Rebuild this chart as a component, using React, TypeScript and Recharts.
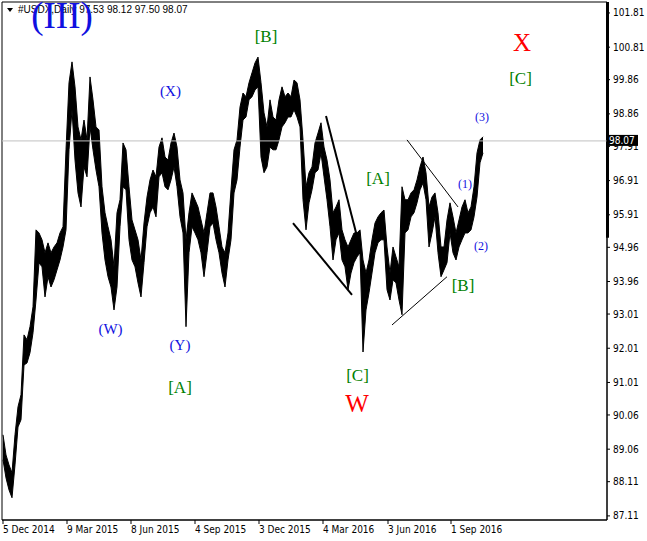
import { ComposedChart, Area, XAxis, YAxis, ReferenceLine, ReferenceDot, ReferenceArea } from 'recharts'

// USDX daily, sampled every 3rd trading day from 5 Dec 2014 (high / low)
const highs = [
	89.48, 88.89, 88.6, 88.37, 89.48, 90.3, 90.65, 92.4, 92.26, 92.64,
	93.22, 95.47, 95.38, 95.18, 94.8, 95.09, 94.8, 94.97, 95.09, 95.38,
	95.56, 97.81, 99.77, 100.38, 99.65, 98.48, 98.1, 98.68, 98.1, 99.94,
	99.27, 98.48, 98.39, 96.73, 95.97, 95.56, 95.18, 94.39, 95.97, 96.35,
	98.01, 97.81, 96.73, 95.76, 95.47, 95.18, 94.59, 95.67, 96.43, 96.93,
	97.22, 97.02, 97.89, 98.16, 97.6, 97.51, 98.01, 98.3, 97.89, 96.93,
	96.55, 95.18, 95.97, 96.55, 96.35, 96.14, 95.76, 95.38, 95.97, 96.55,
	96.55, 96.14, 95.56, 94.97, 94.8, 95.38, 96.64, 97.81, 98.1, 99.06,
	99.47, 99.36, 99.77, 100.06, 100.35, 100.52, 99.77, 98.89, 98.48, 99.27,
	98.77, 98.68, 99.27, 99.65, 99.36, 99.47, 99.36, 99.85, 99.77, 99.27,
	98.1, 96.73, 97.14, 97.31, 98.01, 98.3, 98.6, 97.89, 97.51, 96.93,
	95.97, 96.14, 96.35, 95.47, 95.18, 94.97, 95.18, 95.38, 95.38, 95.47,
	94.59, 94.21, 94.59, 95.18, 95.67, 95.85, 95.97, 96.05, 94.97, 94.21,
	94.97, 94.68, 94.39, 96.73, 96.35, 96.35, 96.55, 96.64, 96.93, 97.31,
	97.6, 97.14, 96.14, 96.43, 96.55, 95.97, 94.97, 94.97, 95.76, 96.26,
	95.85, 95.38, 95.76, 96.14, 96.35, 95.97, 96.14, 96.73, 97.72, 98.1,
	98.19,
]
const lows = [
	88.75, 88.22, 87.87, 87.64, 88.6, 89.71, 89.92, 91.52, 91.58, 91.88,
	92.46, 93.42, 94.51, 94.39, 93.51, 94.1, 93.8, 94.01, 94.3, 94.59,
	94.97, 95.47, 97.81, 98.98, 97.51, 96.55, 96.14, 97.31, 97.02, 98.48,
	97.81, 97.22, 96.73, 95.38, 94.59, 94.1, 93.8, 93.13, 93.8, 95.56,
	96.73, 96.64, 95.18, 94.59, 94.39, 93.92, 93.51, 94.51, 95.56, 95.97,
	96.14, 95.85, 97.02, 97.14, 96.73, 96.64, 96.93, 97.31, 96.73, 95.85,
	95.38, 92.64, 94.8, 95.56, 95.38, 95.18, 94.8, 94.1, 94.8, 95.56,
	95.67, 95.18, 94.8, 94.21, 93.8, 94.59, 95.18, 96.55, 96.93, 97.89,
	98.68, 98.77, 99.27, 99.36, 99.56, 99.65, 97.6, 97.14, 97.31, 97.89,
	97.81, 97.81, 98.1, 98.48, 98.6, 98.77, 98.77, 98.98, 98.77, 98.48,
	96.35, 95.47, 96.26, 96.64, 97.14, 97.22, 97.72, 97.02, 96.35, 95.56,
	94.59, 95.18, 95.38, 94.59, 94.39, 93.72, 94.21, 94.51, 94.68, 94.8,
	91.9, 93.13, 93.63, 94.21, 94.8, 95.09, 95.18, 95.18, 93.72, 93.42,
	94.01, 93.92, 93.42, 92.99, 95.38, 95.47, 95.85, 95.97, 96.26, 96.64,
	96.84, 96.35, 94.97, 95.38, 95.85, 94.8, 94.1, 94.3, 94.51, 95.38,
	94.8, 94.59, 94.97, 95.18, 95.38, 95.38, 95.47, 95.85, 96.43, 97.43,
	97.72,
]

const dateLabels = ['5 Dec 2014', '9 Mar 2015', '8 Jun 2015', '4 Sep 2015', '3 Dec 2015', '4 Mar 2016', '3 Jun 2016', '1 Sep 2016']
const dateBars = [0, 64, 128, 192, 256, 320, 385, 448]
const priceTicks = [101.81, 100.81, 99.86, 98.86, 97.91, 96.91, 95.91, 94.96, 93.96, 93.01, 92.01, 91.01, 90.06, 89.06, 88.11, 87.11]
const lastPrice = 98.07
const header = '#USDX,Daily 97.53 98.12 97.50 98.07'

// elliott wave marks: text, bar, price, degree
const waveText = ['(III)', '[B]', '(X)', '(W)', '(Y)', '[A]', '[A]', '[C]', 'W', 'X', '[C]', '(3)', '(1)', '(2)', '[B]']
const waveBar = [59, 263, 167.5, 107.5, 177, 177, 375, 354.5, 354, 519, 517.5, 479, 462, 478, 460]
const wavePrice = [101.37, 100.96, 99.38, 92.43, 91.96, 90.71, 96.81, 91.06, 90.15, 100.7, 99.74, 98.65, 96.7, 94.88, 93.69]
const waveDegree = ['cycle', 'primary', 'inter', 'inter', 'inter', 'primary', 'primary', 'primary', 'major', 'major', 'primary', 'minor', 'minor', 'minor', 'primary']

// trend / wedge lines
const trendBars = [[290, 349], [323, 357], [404, 455], [389, 444]]
const trendPrices = [[95.67, 93.57], [98.8, 94.94], [98.1, 96.14], [92.69, 94.1]]
const trendHeavy = [true, true, false, false]

const data = highs.map((h, i) => ({ bar: i * 3, range: [lows[i], h] }))

const degreeStyle: Record<string, { fill: string; size: number }> = {
	cycle: { fill: '#1010e0', size: 37 },
	primary: { fill: '#007f00', size: 17 },
	inter: { fill: '#1010e0', size: 15 },
	major: { fill: '#ff0000', size: 25 },
	minor: { fill: '#1010e0', size: 12 },
}

const axisFont = "'Liberation Sans Narrow', 'DejaVu Sans Condensed', 'Liberation Sans', sans-serif"

function DateTick(props: any) {
	const { x, y, payload } = props
	const i = dateBars.indexOf(payload.value)
	return (
		<text x={x} y={y} dy="0.71em" textAnchor="start" fontSize={10} fontFamily={axisFont} fill="#000">
			{dateLabels[i]}
		</text>
	)
}

function PriceTick(props: any) {
	const { x, y, payload } = props
	if (payload.value === lastPrice) {
		return (
			<g>
				<rect x={x - 6} y={y - 6} width={31} height={11} fill="#000" />
				<text x={x - 4} y={y} dy="0.355em" fontSize={10} fontFamily={axisFont} fill="#fff">
					{lastPrice.toFixed(2)}
				</text>
			</g>
		)
	}
	return (
		<text x={x} y={y} dy="0.355em" fontSize={10} fontFamily={axisFont} fill="#000">
			{payload.value.toFixed(2)}
		</text>
	)
}

export default function App() {
	return (
		<div style={{ position: 'absolute', left: 0, top: 0, width: 647, height: 541, background: '#fff' }}>
			<div style={{ position: 'absolute', left: 7, top: 4, fontFamily: "'Liberation Sans', Arial, sans-serif", fontSize: 10, lineHeight: '12px', color: '#000', whiteSpace: 'nowrap', display: 'flex', alignItems: 'center' }}>
				<svg width={6} height={4} style={{ marginRight: 5 }}>
					<polygon points="0,0 6,0 3,4" fill="#000" />
				</svg>
				{header}
			</div>
			<div style={{ position: 'absolute', left: 0, top: 0 }}>
				<ComposedChart width={647} height={541} data={data} margin={{ top: 2, right: 0, bottom: 0, left: 2 }}>
					<XAxis
						dataKey="bar"
						type="number"
						domain={[-1, 604]}
						ticks={dateBars}
						interval={0}
						allowDataOverflow
						height={21}
						tickSize={4}
						tickMargin={2}
						axisLine={{ stroke: '#000' }}
						tickLine={{ stroke: '#000' }}
						tick={<DateTick />}
					/>
					<YAxis
						orientation="right"
						type="number"
						domain={[86.99, 102.13]}
						ticks={[...priceTicks, lastPrice]}
						interval={0}
						allowDataOverflow
						width={40}
						tickSize={3}
						tickMargin={3}
						axisLine={{ stroke: '#000' }}
						tickLine={{ stroke: '#000' }}
						tick={<PriceTick />}
					/>
					<ReferenceLine y={lastPrice} stroke="#c0c0c0" />
					<Area
						dataKey="range"
						type="linear"
						stroke="#000"
						strokeWidth={1}
						fill="#000"
						fillOpacity={1}
						dot={false}
						activeDot={false}
						isAnimationActive={false}
					/>
					{trendBars.map((b, i) => (
						<ReferenceLine
							key={'t' + i}
							segment={[
								{ x: b[0], y: trendPrices[i][0] },
								{ x: b[1], y: trendPrices[i][1] },
							]}
							stroke="#000"
							strokeWidth={trendHeavy[i] ? 2 : 1}
							ifOverflow="visible"
						/>
					))}
					<ReferenceArea x1={-1} x2={604} y1={86.99} y2={102.13} fill="none" stroke="#000" ifOverflow="visible" />
					<ReferenceArea x1={603} x2={606} y1={95.24} y2={102.13} fill="#000" fillOpacity={1} stroke="none" ifOverflow="visible" />
					{waveText.map((t, i) => {
						const st = degreeStyle[waveDegree[i]]
						return (
							<ReferenceDot
								key={'w' + i}
								x={waveBar[i]}
								y={wavePrice[i]}
								r={0}
								ifOverflow="visible"
								shape={(p: any) => (
									<text x={p.cx} y={p.cy} textAnchor="middle" fontSize={st.size} fontFamily="'Liberation Serif', 'Times New Roman', serif" fill={st.fill}>
										{t}
									</text>
								)}
							/>
						)
					})}
				</ComposedChart>
			</div>
		</div>
	)
}
